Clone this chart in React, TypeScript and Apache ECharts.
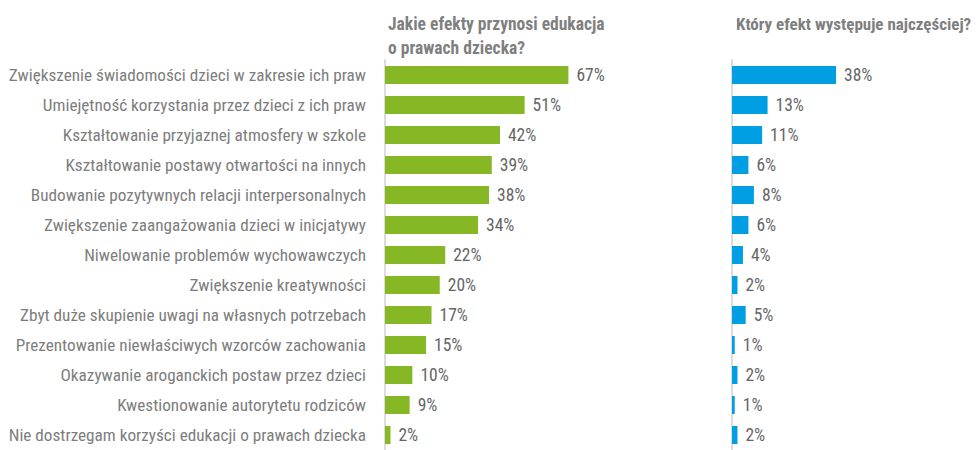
import React, { useEffect, useRef } from "react";
import * as echarts from "echarts";

const categories = [
  "Zwiększenie świadomości dzieci w zakresie ich praw",
  "Umiejętność korzystania przez dzieci z ich praw",
  "Kształtowanie przyjaznej atmosfery w szkole",
  "Kształtowanie postawy otwartości na innych",
  "Budowanie pozytywnych relacji interpersonalnych",
  "Zwiększenie zaangażowania dzieci w inicjatywy",
  "Niwelowanie problemów wychowawczych",
  "Zwiększenie kreatywności",
  "Zbyt duże skupienie uwagi na własnych potrzebach",
  "Prezentowanie niewłaściwych wzorców zachowania",
  "Okazywanie aroganckich postaw przez dzieci",
  "Kwestionowanie autorytetu rodziców",
  "Nie dostrzegam korzyści edukacji o prawach dziecka",
];
const effectsValues = [67, 51, 42, 39, 38, 34, 22, 20, 17, 15, 10, 9, 2];
const mostCommonValues = [38, 13, 11, 6, 8, 6, 4, 2, 5, 1, 2, 1, 2];
const titleLeft = "Jakie efekty przynosi edukacja\no prawach dziecka?";
const titleRight = "Który efekt występuje najczęściej?";

const FONT = "'Liberation Sans Narrow', 'Roboto Condensed', Roboto, sans-serif";

export default function App() {
  const ref = useRef<HTMLDivElement>(null);
  useEffect(() => {
    if (!ref.current) return;
    const chart = echarts.init(ref.current, null, { renderer: "svg" });
    const axisLine = { show: true, lineStyle: { color: "#dcdcdc", width: 2 } };
    const titleStyle = { fontFamily: FONT, fontSize: 17.5, fontWeight: "bold", color: "#7f7f7f", lineHeight: 24 };
    const valueLabel = {
      show: true,
      position: "right",
      distance: 8,
      formatter: "{c}%",
      fontFamily: FONT,
      fontSize: 17.5,
      fontWeight: "normal",
      color: "#666666",
    };
    chart.setOption({
      animation: false,
      textStyle: { fontFamily: FONT },
      title: [
        { text: titleLeft, left: 383, top: 7, textStyle: titleStyle },
        { text: titleRight, left: 731, top: 7, textStyle: { ...titleStyle, fontSize: 17 } },
      ],
      grid: [
        { left: 385, top: 60, width: 219, height: 391 },
        { left: 732, top: 60, width: 219, height: 391 },
      ],
      xAxis: [
        { type: "value", gridIndex: 0, min: 0, max: 80, show: false },
        { type: "value", gridIndex: 1, min: 0, max: 80, show: false },
      ],
      yAxis: [
        {
          type: "category",
          gridIndex: 0,
          data: categories,
          inverse: true,
          axisLine,
          axisTick: { show: false },
          axisLabel: { fontFamily: FONT, fontSize: 17.2, color: "#7d7d7d", margin: 19 },
        },
        {
          type: "category",
          gridIndex: 1,
          data: categories,
          inverse: true,
          axisLine,
          axisTick: { show: false },
          axisLabel: { show: false },
        },
      ],
      series: [
        {
          type: "bar",
          xAxisIndex: 0,
          yAxisIndex: 0,
          data: effectsValues,
          barWidth: 18,
          itemStyle: { color: "#86b825" },
          label: valueLabel,
        },
        {
          type: "bar",
          xAxisIndex: 1,
          yAxisIndex: 1,
          data: mostCommonValues,
          barWidth: 18,
          itemStyle: { color: "#009fe3" },
          label: valueLabel,
        },
      ],
    });
    return () => chart.dispose();
  }, []);
  return <div ref={ref} style={{ position: "absolute", left: 0, top: 0, width: 976, height: 450 }} />;
}
